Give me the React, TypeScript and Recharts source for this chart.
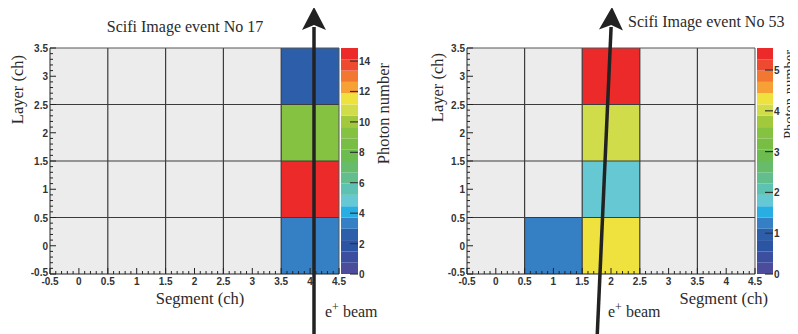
import React from 'react'
import { ComposedChart, XAxis, YAxis, ReferenceArea, ReferenceLine, Scatter } from 'recharts'

// photon numbers per fibre cell
const event17Cells = [
  { seg: 4, layer: 0, value: 3.3 },
  { seg: 4, layer: 1, value: 14.86 },
  { seg: 4, layer: 2, value: 9.3 },
  { seg: 4, layer: 3, value: 2.6 },
]
const event53Cells = [
  { seg: 1, layer: 0, value: 1.25 },
  { seg: 2, layer: 0, value: 4.3 },
  { seg: 2, layer: 1, value: 1.8 },
  { seg: 2, layer: 2, value: 4.0 },
  { seg: 2, layer: 3, value: 5.54 },
]

const segTicks = [-0.5, 0, 0.5, 1, 1.5, 2, 2.5, 3, 3.5, 4, 4.5]
const layerTicks = [-0.5, 0, 0.5, 1, 1.5, 2, 2.5, 3, 3.5]
const cellEdgesX = [0.5, 1.5, 2.5, 3.5]
const cellEdgesY = [0.5, 1.5, 2.5]
const event17ZTicks = [0, 2, 4, 6, 8, 10, 12, 14]
const event53ZTicks = [0, 1, 2, 3, 4, 5]

// ROOT style 20 level palette, bottom -> top
const palette = [
  '#4b4c9c', '#3b4ea0', '#2b54a2', '#2d5ea9', '#3580c4',
  '#29aee4', '#66c8d2', '#5ec2b2', '#62be8c', '#66bc6a',
  '#6cbc50', '#78be44', '#86c241', '#a2c83c', '#d0dc4a',
  '#f0e23e', '#f6a035', '#f27832', '#ee4a30', '#ec2a2a',
]

const withMinor = (majors: number[]) => {
  const out: number[] = []
  majors.forEach((m, i) => {
    out.push(m)
    if (i < majors.length - 1) for (let k = 1; k < 5; k++) out.push(Math.round((m + k * 0.1) * 10) / 10)
  })
  return out
}

const isMajor = (v: number) => Math.abs(v * 2 - Math.round(v * 2)) < 1e-6
const tickFont = { fontFamily: 'Liberation Sans, Arial, sans-serif', fontWeight: 700, fontSize: 10, fill: '#333' }

const XTick = (props: any) => {
  const { x, y, payload } = props
  const major = isMajor(payload.value)
  return (
    <g>
      <line x1={x} x2={x} y1={y} y2={y - (major ? 6 : 3)} stroke="#222" />
      {major && <text x={x} y={y + 11} textAnchor="middle" {...tickFont}>{String(payload.value)}</text>}
    </g>
  )
}

const YTick = (props: any) => {
  const { x, y, payload } = props
  const major = isMajor(payload.value)
  // lowest label sits just above the x labels, as ROOT does
  const dy = payload.value === layerTicks[0] ? 2 : 4
  return (
    <g>
      <line x1={x} x2={x + (major ? 6 : 3)} y1={y} y2={y} stroke="#222" />
      {major && <text x={x - 2} y={y + dy} textAnchor="end" {...tickFont}>{String(payload.value)}</text>}
    </g>
  )
}

const ZTick = (props: any) => {
  const { x, y, payload } = props
  return (
    <g>
      <line x1={x} x2={x - 8} y1={y} y2={y} stroke="#333" strokeWidth={1.2} />
      <text x={x + 1} y={y + 4} textAnchor="start" {...tickFont}>{String(payload.value)}</text>
    </g>
  )
}

const colorOf = (v: number, zmax: number) => palette[Math.min(palette.length - 1, Math.floor((v / zmax) * palette.length))]

function Panel({ cells, left, width, margin }: { cells: typeof event17Cells; left: number; width: number; margin: any }) {
  const zmax = Math.max(...cells.map((c) => c.value))
  return (
    <div style={{ position: 'absolute', left, top: 0 }}>
      <ComposedChart width={width} height={334} margin={margin} data={cells}>
        <ReferenceArea x1={-0.5} x2={4.5} y1={-0.5} y2={3.5} fill="#ececec" fillOpacity={1} stroke="none" ifOverflow="visible" />
        {cells.map((c) => (
          <ReferenceArea
            key={`${c.seg}-${c.layer}`}
            x1={c.seg - 0.5}
            x2={c.seg + 0.5}
            y1={c.layer - 0.5}
            y2={c.layer + 0.5}
            fill={colorOf(c.value, zmax)}
            fillOpacity={1}
            stroke="none"
            ifOverflow="visible"
          />
        ))}
        {cellEdgesX.map((e) => (
          <ReferenceLine key={`x${e}`} x={e} stroke="#3c3c3c" strokeWidth={1.2} ifOverflow="visible" />
        ))}
        {cellEdgesY.map((e) => (
          <ReferenceLine key={`y${e}`} y={e} stroke="#3c3c3c" strokeWidth={1.2} ifOverflow="visible" />
        ))}
        <ReferenceLine x={4.5} stroke="#555" ifOverflow="visible" />
        <ReferenceLine y={3.5} stroke="#555" ifOverflow="visible" />
        <XAxis
          type="number"
          dataKey="seg"
          domain={[-0.5, 4.5]}
          allowDataOverflow
          ticks={withMinor(segTicks)}
          interval={0}
          height={1}
          tickSize={0}
          tickMargin={0}
          tick={<XTick />}
          axisLine={{ stroke: '#222' }}
        />
        <YAxis
          type="number"
          dataKey="layer"
          domain={[-0.5, 3.5]}
          allowDataOverflow
          ticks={withMinor(layerTicks)}
          interval={0}
          width={1}
          tickSize={0}
          tickMargin={0}
          tick={<YTick />}
          axisLine={{ stroke: '#222' }}
        />
        <Scatter data={cells} shape={() => <g />} isAnimationActive={false} />
      </ComposedChart>
    </div>
  )
}

function ColorBar({ zmax, ticks, left, width }: { zmax: number; ticks: number[]; left: number; width: number }) {
  const step = zmax / palette.length
  return (
    <div style={{ position: 'absolute', left, top: 0 }}>
      <ComposedChart width={width + 31} height={334} margin={{ top: 48, bottom: 60, left: 0, right: 30 }} data={[{ x: 0, z: 0 }]}>
        {palette.map((c, i) => (
          <ReferenceArea key={c} x1={0} x2={1} y1={i * step} y2={(i + 1) * step} fill={c} fillOpacity={1} stroke="none" ifOverflow="visible" />
        ))}
        <XAxis type="number" dataKey="x" domain={[0, 1]} hide />
        <YAxis
          type="number"
          dataKey="z"
          orientation="right"
          domain={[0, zmax]}
          allowDataOverflow
          ticks={ticks}
          interval={0}
          width={1}
          tickSize={0}
          tickMargin={0}
          tick={<ZTick />}
          axisLine={false}
        />
        <Scatter data={[{ x: 0, z: 0 }]} shape={() => <g />} isAnimationActive={false} />
      </ComposedChart>
    </div>
  )
}

const serif = { fontFamily: 'Liberation Serif, Times New Roman, serif', fill: '#2a2a2a' }

function Arrow({ x0, y0, x1, y1 }: { x0: number; y0: number; x1: number; y1: number }) {
  const angle = (Math.atan2(x1 - x0, y0 - y1) * 180) / Math.PI
  const len = Math.hypot(x1 - x0, y0 - y1)
  return (
    <g transform={`rotate(${angle} ${x1} ${y1})`}>
      <line x1={x1} y1={y1 + len} x2={x1} y2={y1 + 20} stroke="#222" strokeWidth={3.5} />
      <polygon points={`${x1},${y1} ${x1 - 12},${y1 + 23} ${x1},${y1 + 18} ${x1 + 12},${y1 + 23}`} fill="#222" />
    </g>
  )
}

export default function App() {
  const max17 = Math.max(...event17Cells.map((c) => c.value))
  const max53 = Math.max(...event53Cells.map((c) => c.value))
  return (
    <div style={{ position: 'relative', width: 798, height: 334, margin: '-8px 0 0 -8px', background: '#fff', overflow: 'hidden' }}>
      <Panel cells={event17Cells} left={0} width={400} margin={{ top: 48, bottom: 59, left: 49, right: 61 }} />
      <ColorBar zmax={max17} ticks={event17ZTicks} left={341} width={17} />
      <Panel cells={event53Cells} left={400} width={398} margin={{ top: 48, bottom: 59, left: 66, right: 43 }} />
      <ColorBar zmax={max53} ticks={event53ZTicks} left={757} width={16} />
      <svg width={798} height={334} style={{ position: 'absolute', left: 0, top: 0, pointerEvents: 'none' }}>
        <text x={185} y={32} textAnchor="middle" fontSize={16} {...serif}>Scifi Image event No 17</text>
        <text x={628} y={27} textAnchor="start" fontSize={16} {...serif}>Scifi Image event No 53</text>
        <text x={200} y={304} textAnchor="middle" fontSize={16.5} {...serif}>Segment (ch)</text>
        <text x={768} y={304} textAnchor="end" fontSize={16.5} {...serif}>Segment (ch)</text>
        <text transform="translate(23,55) rotate(-90)" textAnchor="end" fontSize={16.5} {...serif}>Layer (ch)</text>
        <text transform="translate(443,53) rotate(-90)" textAnchor="end" fontSize={16.5} {...serif}>Layer (ch)</text>
        <text transform="translate(389,63) rotate(-90)" textAnchor="end" fontSize={16.5} {...serif}>Photon number</text>
        <text transform="translate(794,50) rotate(-90)" textAnchor="end" fontSize={14.5} {...serif}>Photon number</text>
        <Arrow x0={314} y0={340} x1={314} y1={7} />
        <Arrow x0={597} y0={340} x1={612} y1={7} />
        <text x={325} y={317} fontSize={16} {...serif}>
          e<tspan dy={-6} fontSize={12}>+</tspan>
          <tspan dy={6}> beam</tspan>
        </text>
        <text x={608} y={317} fontSize={16} {...serif}>
          e<tspan dy={-6} fontSize={12}>+</tspan>
          <tspan dy={6}> beam</tspan>
        </text>
      </svg>
    </div>
  )
}
